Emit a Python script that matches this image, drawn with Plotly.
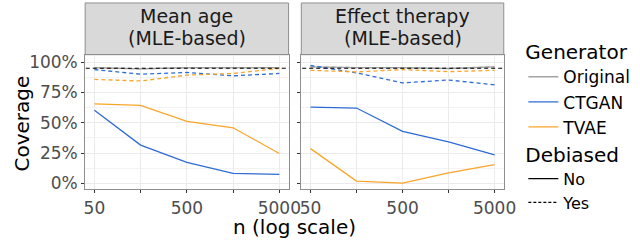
import plotly.graph_objects as go
import math

n_values = [50, 158, 500, 1581, 5000]
panel_titles = [("Mean age", "(MLE-based)"), ("Effect therapy", "(MLE-based)")]
nominal = 0.95

# Mean age panel
age_original_no = [0.955, 0.945, 0.955, 0.955, 0.955]
age_original_yes = [0.955, 0.945, 0.955, 0.955, 0.955]
age_ctgan_no = [0.603, 0.316, 0.174, 0.083, 0.075]
age_tvae_no = [0.657, 0.644, 0.512, 0.459, 0.247]
age_ctgan_yes = [0.939, 0.901, 0.915, 0.888, 0.907]
age_tvae_yes = [0.858, 0.845, 0.893, 0.907, 0.949]

# Effect therapy panel
eff_original_no = [0.962, 0.955, 0.955, 0.948, 0.962]
eff_original_yes = [0.962, 0.955, 0.955, 0.948, 0.962]
eff_ctgan_no = [0.630, 0.622, 0.429, 0.343, 0.236]
eff_tvae_no = [0.287, 0.019, 0.003, 0.088, 0.155]
eff_ctgan_yes = [0.973, 0.912, 0.829, 0.853, 0.813]
eff_tvae_yes = [0.933, 0.920, 0.939, 0.922, 0.933]

y_ticks = [0, 0.25, 0.5, 0.75, 1.0]
y_ticklabels = ["0%", "25%", "50%", "75%", "100%"]
x_ticklabels = ["50", "", "500", "", "5000"]

colors = {"Original": "#A3A3A3", "CTGAN": "#2D6CD6", "TVAE": "#F9A52A"}
FONT = "DejaVu Sans"
W, H = 640, 244

fig = go.Figure()

panel_data = [
    {"Original": (age_original_no, age_original_yes), "CTGAN": (age_ctgan_no, age_ctgan_yes), "TVAE": (age_tvae_no, age_tvae_yes)},
    {"Original": (eff_original_no, eff_original_yes), "CTGAN": (eff_ctgan_no, eff_ctgan_yes), "TVAE": (eff_tvae_no, eff_tvae_yes)},
]

for i, pdata in enumerate(panel_data):
    xa = "x" if i == 0 else "x2"
    ya = "y" if i == 0 else "y2"
    for gen in ["Original", "CTGAN", "TVAE"]:
        no_vals, yes_vals = pdata[gen]
        fig.add_trace(go.Scatter(x=n_values, y=no_vals, mode="lines", xaxis=xa, yaxis=ya,
                                 line=dict(color=colors[gen], width=1.3), showlegend=False, hoverinfo="skip"))
        fig.add_trace(go.Scatter(x=n_values, y=yes_vals, mode="lines", xaxis=xa, yaxis=ya,
                                 line=dict(color=colors[gen], width=1.3, dash="4px,3px"), showlegend=False, hoverinfo="skip"))
    # nominal reference line
    fig.add_trace(go.Scatter(x=[10, 100000], y=[nominal, nominal], mode="lines", xaxis=xa, yaxis=ya,
                             line=dict(color="black", width=1.1, dash="4px,3px"), showlegend=False, hoverinfo="skip"))

# legend entries
for gen in ["Original", "CTGAN", "TVAE"]:
    fig.add_trace(go.Scatter(x=[None], y=[None], mode="lines", name=gen, legend="legend",
                             line=dict(color=colors[gen], width=1.3)))
fig.add_trace(go.Scatter(x=[None], y=[None], mode="lines", name="No", legend="legend2",
                         line=dict(color="black", width=1.3)))
fig.add_trace(go.Scatter(x=[None], y=[None], mode="lines", name="Yes", legend="legend2",
                         line=dict(color="black", width=1.3, dash="3px,2px")))

x_domains = [[85 / W, 293 / W], [306 / W, 513 / W]]
y_domain = [52 / H, 190 / H]
xr = [math.log10(50) - 0.1, math.log10(5000) + 0.1]
yr = [-0.048, 1.062]

border = "#8E8E8E"
grid = "#EBEBEB"

common_x = dict(type="log", range=xr, tickvals=n_values, ticktext=x_ticklabels,
                showgrid=True, gridcolor=grid, gridwidth=1, showline=True, mirror=True,
                linecolor=border, linewidth=1, ticks="outside", ticklen=3, tickcolor="#333333",
                tickfont=dict(family=FONT, size=17, color="#4D4D4D"), zeroline=False)
common_y = dict(range=yr, tickvals=y_ticks, showgrid=True, gridcolor=grid, gridwidth=1,
                showline=True, mirror=True, linecolor=border, linewidth=1,
                ticks="outside", ticklen=3, tickcolor="#333333", zeroline=False,
                minor=dict(dtick=0.125, tick0=0.125, showgrid=True, gridcolor="#F3F3F3", gridwidth=0.6, ticks=""),
                domain=y_domain)

fig.update_layout(
    width=W, height=H, margin=dict(l=0, r=0, t=0, b=0),
    paper_bgcolor="white", plot_bgcolor="white",
    font=dict(family=FONT, color="black"),
    xaxis=dict(domain=x_domains[0], anchor="y", **common_x),
    xaxis2=dict(domain=x_domains[1], anchor="y2", **common_x),
    yaxis=dict(anchor="x", ticktext=y_ticklabels,
               tickfont=dict(family=FONT, size=17, color="#4D4D4D"), **common_y),
    yaxis2=dict(anchor="x2", showticklabels=False, **common_y),
    legend=dict(x=533 / W, y=1 - 32 / H, xanchor="left", yanchor="top",
                title=dict(text="Generator", font=dict(family=FONT, size=20, color="black")),
                font=dict(family=FONT, size=17, color="black"), itemwidth=30,
                bgcolor="rgba(0,0,0,0)", tracegroupgap=0),
    legend2=dict(x=533 / W, y=1 - 137 / H, xanchor="left", yanchor="top",
                 title=dict(text="Debiased", font=dict(family=FONT, size=20, color="black")),
                 font=dict(family=FONT, size=16, color="black"), itemwidth=30,
                 bgcolor="rgba(0,0,0,0)", tracegroupgap=0),
)

shapes = []
annotations = []
for i, (line1, line2) in enumerate(panel_titles):
    x0, x1 = x_domains[i]
    shapes.append(dict(type="rect", xref="paper", yref="paper", x0=x0, x1=x1,
                       y0=190 / H, y1=1 - 1 / H, fillcolor="#D9D9D9",
                       line=dict(color=border, width=1), layer="below"))
    annotations.append(dict(text=line1, xref="paper", yref="paper", x=(x0 + x1) / 2,
                            y=1 - 14 / H, showarrow=False, xanchor="center", yanchor="middle",
                            font=dict(family=FONT, size=19, color="#1A1A1A")))
    annotations.append(dict(text=line2, xref="paper", yref="paper", x=(x0 + x1) / 2,
                            y=1 - 37 / H, showarrow=False, xanchor="center", yanchor="middle",
                            font=dict(family=FONT, size=19, color="#1A1A1A")))

annotations.append(dict(text="Coverage", xref="paper", yref="paper", x=20 / W, y=1 - 125 / H,
                        textangle=-90, showarrow=False, xanchor="center", yanchor="middle",
                        font=dict(family=FONT, size=20, color="black")))
annotations.append(dict(text="n (log scale)", xref="paper", yref="paper", x=299 / W, y=1 - 231 / H,
                        showarrow=False, xanchor="center", yanchor="middle",
                        font=dict(family=FONT, size=20, color="black")))

fig.update_layout(shapes=shapes, annotations=annotations)
fig.write_html("out.html", config={"displayModeBar": False},
               post_script="document.body.style.margin='0';document.body.style.overflow='hidden';")
